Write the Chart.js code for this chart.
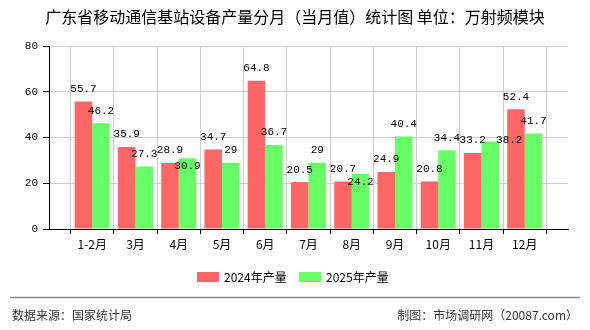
<!DOCTYPE html>
<html>
<head>
<meta charset="utf-8">
<script src="https://cdn.jsdelivr.net/npm/chart.js@4"></script>
<style>
  html, body { margin: 0; padding: 0; background: #fff; }
  #wrap { width: 590px; height: 330px; position: relative; }
</style>
</head>
<body>
<div id="wrap"><canvas id="chart"></canvas></div>
<script>
const months = ['1-2月', '3月', '4月', '5月', '6月', '7月', '8月', '9月', '10月', '11月', '12月'];
const output2024 = [55.7, 35.9, 28.9, 34.7, 64.8, 20.5, 20.7, 24.9, 20.8, 33.2, 52.4];
const output2025 = [46.2, 27.3, 30.9, 29, 36.7, 29, 24.2, 40.4, 34.4, 38.2, 41.7];
const yTicks = [0, 20, 40, 60, 80];

const titleText = '广东省移动通信基站设备产量分月（当月值）统计图 单位：万射频模块';
const sourceText = '数据来源：国家统计局';
const makerText = '制图：市场调研网（20087.com）';

// empty slot on each side so the axis has one category gap at both ends
const labels = [''].concat(months, ['']);
const pad = arr => [null].concat(arr, [null]);

// labels that overlap get pushed a bit (green series only)
const labelNudge = { 2: [0, 20], 6: [0, 21], 9: [19, 11] };

const cjk = '"Noto Sans CJK SC", "Noto Sans", sans-serif';
const mono = '"Liberation Mono", "DejaVu Sans Mono", monospace';

const decor = {
  id: 'decor',
  afterDatasetsDraw(chart) {
    const ctx = chart.ctx;
    ctx.save();
    ctx.font = '11px ' + mono;
    ctx.fillStyle = '#000';
    ctx.textAlign = 'center';
    ctx.textBaseline = 'middle';
    chart.data.datasets.forEach((ds, di) => {
      chart.getDatasetMeta(di).data.forEach((bar, i) => {
        const v = ds.data[i];
        if (v == null) return;
        let dx = 0, dy = 0;
        if (di === 1 && labelNudge[i - 1]) {
          dx = labelNudge[i - 1][0];
          dy = labelNudge[i - 1][1];
        }
        ctx.fillText(String(v), bar.x + dx, bar.y - 12.5 + dy);
      });
    });
    ctx.restore();
  },
  afterDraw(chart) {
    const ctx = chart.ctx;
    ctx.save();
    // title
    ctx.fillStyle = '#000';
    ctx.font = '16px ' + cjk;
    ctx.textAlign = 'center';
    ctx.textBaseline = 'middle';
    ctx.fillText(titleText, 295, 17);

    // legend
    ctx.font = '12px ' + cjk;
    ctx.textAlign = 'left';
    const items = [[197, 224], [299, 326]];
    chart.data.datasets.forEach((ds, i) => {
      ctx.fillStyle = ds.backgroundColor;
      ctx.fillRect(items[i][0], 272, 22, 10);
      ctx.fillStyle = '#000';
      ctx.fillText(ds.label, items[i][1], 277);
    });

    // footer
    ctx.strokeStyle = '#888';
    ctx.lineWidth = 1.5;
    ctx.beginPath();
    ctx.moveTo(10, 297.5);
    ctx.lineTo(580, 297.5);
    ctx.stroke();
    ctx.fillStyle = '#333';
    ctx.font = '12px ' + cjk;
    ctx.fillText(sourceText, 12, 315);
    ctx.textAlign = 'right';
    ctx.fillText(makerText, 578, 315);
    ctx.restore();
  }
};

new Chart(document.getElementById('chart'), {
  type: 'bar',
  data: {
    labels: labels,
    datasets: [{
      label: '2024年产量',
      data: pad(output2024),
      backgroundColor: '#ff6666'
    }, {
      label: '2025年产量',
      data: pad(output2025),
      backgroundColor: '#66ff66'
    }]
  },
  options: {
    responsive: true,
    maintainAspectRatio: false,
    animation: false,
    layout: {
      padding: { left: 0, right: 22, top: 46, bottom: 71 }
    },
    plugins: {
      legend: { display: false },
      title: { display: false },
      tooltip: { enabled: false }
    },
    datasets: {
      bar: { barPercentage: 1, categoryPercentage: 0.81 }
    },
    scales: {
      x: {
        offset: false,
        afterFit: s => { s.height = 30; },
        grid: {
          color: '#cccccc',
          tickColor: '#000',
          tickLength: 5,
          drawTicks: true
        },
        border: { color: '#000', width: 1 },
        ticks: {
          autoSkip: false,
          maxRotation: 0,
          padding: 3,
          color: '#000',
          font: { family: cjk, size: 12 }
        }
      },
      y: {
        min: yTicks[0],
        max: yTicks[yTicks.length - 1],
        afterFit: s => { s.width = 49; },
        afterBuildTicks: s => { s.ticks = yTicks.map(v => ({ value: v })); },
        grid: {
          color: '#cccccc',
          tickColor: '#000',
          tickLength: 6
        },
        border: { color: '#000', width: 1 },
        ticks: {
          padding: 5,
          color: '#000',
          font: { family: mono, size: 11 }
        }
      }
    }
  },
  plugins: [decor]
});
</script>
</body>
</html>
